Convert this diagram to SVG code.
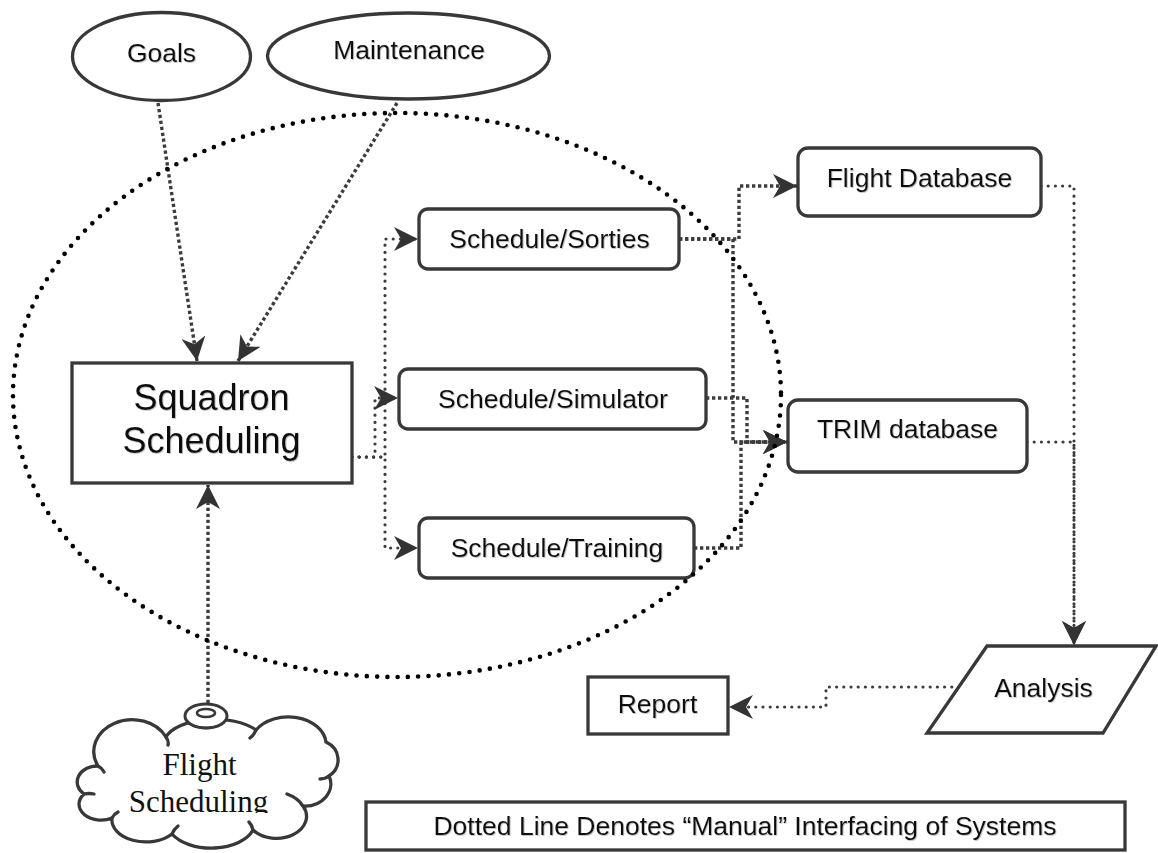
<svg xmlns="http://www.w3.org/2000/svg" width="1158" height="853" viewBox="0 0 1158 853">
  <style>
    .node { fill: #ffffff; stroke: #383838; stroke-width: 3.3; }
    .lbl { font-family: "Liberation Sans", Arial, sans-serif; font-size: 26.5px; fill: #111111; text-anchor: middle; filter: url(#shadow); }
    .big { font-size: 36px; }
    .serif { font-family: "Liberation Serif", "Times New Roman", serif; font-size: 31px; fill: #111111; text-anchor: middle; }
    .c1 { fill: none; stroke: #3c3c3c; stroke-width: 3.4; stroke-dasharray: 3.3 2.7; }
    .c2 { fill: none; stroke: #3c3c3c; stroke-width: 3.2; stroke-dasharray: 0 7.2; stroke-linecap: round; }
    .boundary { fill: none; stroke: #000000; stroke-width: 4.6; stroke-dasharray: 0 10.3; stroke-linecap: round; }
    .cloudline { fill: none; stroke: #383838; stroke-width: 3.3; stroke-linecap: round; }
  </style>
  <defs>
    <filter id="shadow" x="-5%" y="-20%" width="110%" height="140%">
      <feDropShadow dx="0.8" dy="0.8" stdDeviation="0.6" flood-color="#888888" flood-opacity="0.6"/>
    </filter>
    <marker id="arrow" markerUnits="userSpaceOnUse" markerWidth="24" markerHeight="24" viewBox="0 0 24 24" refX="24" refY="12" orient="auto">
      <path d="M0,0 L24,12 L0,24 L7,12 Z" fill="#333333"/>
    </marker>
    <clipPath id="cloudclip">
      <rect x="0" y="0" width="1158" height="813"/>
    </clipPath>
  </defs>

  <rect x="0" y="0" width="1158" height="853" fill="#ffffff"/>

  <g id="connectors">
    <path class="c1" d="M158,103 L197,361" marker-end="url(#arrow)"/>
    <path class="c1" d="M397,103 L238,361" marker-end="url(#arrow)"/>
    <path class="c1" d="M208,703 L208,485" marker-end="url(#arrow)"/>
    <path class="c2" d="M352,457 H385 V239 H418" marker-end="url(#arrow)"/>
    <path class="c2" d="M352,457 H375 V398 H398" marker-end="url(#arrow)"/>
    <path class="c2" d="M352,457 H385 V548 H418" marker-end="url(#arrow)"/>
    <path class="c1" d="M679,239 H739 V186 H797" marker-end="url(#arrow)"/>
    <path class="c1" d="M679,239 H733 V442 H787" marker-end="url(#arrow)"/>
    <path class="c1" d="M706,398 H747 V442 H787" marker-end="url(#arrow)"/>
    <path class="c1" d="M694,548 H741 V442 H787" marker-end="url(#arrow)"/>
    <path class="c2" d="M1041,186 H1074 V645" marker-end="url(#arrow)"/>
    <path class="c2" d="M1027,442 H1074 V645" marker-end="url(#arrow)"/>
    <path class="c2" d="M959,687 H826 V707 H729" marker-end="url(#arrow)"/>
  </g>

  <g id="goals">
    <ellipse class="node" cx="161.5" cy="56.5" rx="89" ry="44"/>
    <text class="lbl" x="161.5" y="62">Goals</text>
  </g>
  <g id="maintenance">
    <ellipse class="node" cx="408.5" cy="56" rx="141" ry="43"/>
    <text class="lbl" x="409" y="59">Maintenance</text>
  </g>
  <g id="squadron-scheduling">
    <rect class="node" x="72" y="363" width="280" height="120"/>
    <text class="lbl big" x="211.5" y="410">Squadron</text>
    <text class="lbl big" x="211.5" y="453">Scheduling</text>
  </g>
  <g id="schedule-sorties">
    <rect class="node" x="419" y="209" width="260" height="60" rx="9"/>
    <text class="lbl" x="549.5" y="248">Schedule/Sorties</text>
  </g>
  <g id="schedule-simulator">
    <rect class="node" x="399" y="369" width="307" height="60" rx="9"/>
    <text class="lbl" x="553" y="408">Schedule/Simulator</text>
  </g>
  <g id="schedule-training">
    <rect class="node" x="419" y="518" width="275" height="60" rx="9"/>
    <text class="lbl" x="557" y="557">Schedule/Training</text>
  </g>
  <g id="flight-database">
    <rect class="node" x="798" y="148" width="243" height="68" rx="10"/>
    <text class="lbl" x="919.5" y="187">Flight Database</text>
  </g>
  <g id="trim-database">
    <rect class="node" x="788" y="400" width="239" height="72" rx="10"/>
    <text class="lbl" x="907.5" y="438">TRIM database</text>
  </g>
  <g id="analysis">
    <polygon class="node" points="987,646 1156,646 1103,733 927,733"/>
    <text class="lbl" x="1043.5" y="697">Analysis</text>
  </g>
  <g id="report">
    <rect class="node" x="588" y="677" width="140" height="57"/>
    <text class="lbl" x="657.5" y="713">Report</text>
  </g>
  <g id="flight-scheduling">
    <path class="node" d="M98,766 A36,30 0 0 1 166,737 A50,24 0 0 1 256,730 A38,28 0 0 1 326,742 A22,20 0 0 1 329,776 A26,22 0 0 1 303,806 A30,22 0 0 1 253,830 A44,26 0 0 1 172,834 A34,22 0 0 1 112,818 A22,16 0 0 1 84,794 A20,16 0 0 1 98,766 Z"/>
    <path class="cloudline" d="M98,766 q4,2 6,6 M166,737 q3,4 2,8 M256,730 q-2,5 -6,8 M329,776 q-4,3 -9,3 M303,806 q-5,-8 -16,-12 M253,830 q-1,-5 -4,-8 M172,834 q2,-5 6,-8 M112,818 q2,-4 6,-6 M84,794 q5,-1 10,0"/>
    <ellipse cx="206" cy="716" rx="21" ry="12" fill="#ffffff" stroke="#383838" stroke-width="3"/>
    <ellipse cx="206" cy="713" rx="9" ry="4" fill="none" stroke="#383838" stroke-width="2.5"/>
    <path d="M190,724 Q206,732 222,724" fill="none" stroke="#383838" stroke-width="2.5"/>
    <g clip-path="url(#cloudclip)">
      <text class="serif" x="199.5" y="775">Flight</text>
      <text class="serif" x="198.5" y="812">Scheduling</text>
    </g>
  </g>

  <ellipse id="system-boundary" class="boundary" cx="397" cy="395" rx="384" ry="282"/>

  <g id="legend">
    <rect class="node" x="366" y="802" width="759" height="48"/>
    <text class="lbl" x="745" y="835">Dotted Line Denotes “Manual” Interfacing of Systems</text>
  </g>
</svg>
